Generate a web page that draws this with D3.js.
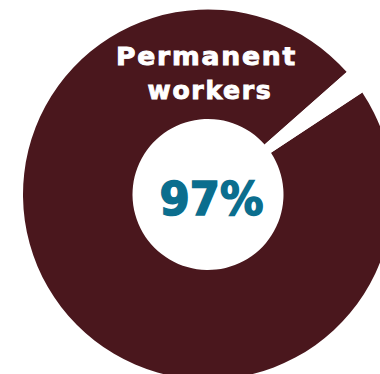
<!DOCTYPE html>
<html>
<head>
<meta charset="utf-8">
<script src="https://cdn.jsdelivr.net/npm/d3@7"></script>
<style>
  html, body { margin: 0; padding: 0; background: #fff; }
  svg { display: block; }
</style>
</head>
<body>
<div id="chart"></div>
<script>
const width = 380;
const height = 374;

// slices as drawn (label shows the rounded figure)
const categories = ["Permanent workers", "Other"];
const shares = [97.8, 2.2];
const colors = ["#4a171d", "#ffffff"];
const labelLines = ["Permanent", "workers"];
const centerLabel = "97%";

const cx = 208;
const cy = 194.5;
const outerR = 185;
const innerR = 75.5;

const svg = d3.select("#chart").append("svg")
    .attr("width", width)
    .attr("height", height);

const g = svg.append("g")
    .attr("transform", `translate(${cx}, ${cy})`);

const startDeg = 56.5;
const pie = d3.pie()
    .sort(null)
    .startAngle(startDeg * Math.PI / 180)
    .endAngle(startDeg * Math.PI / 180 + 2 * Math.PI);

const arc = d3.arc()
    .innerRadius(innerR)
    .outerRadius(outerR);

const slices = pie(shares).map((d, i) => ({...d, name: categories[i]}));

g.selectAll("path.slice")
    .data(slices)
    .enter()
    .append("path")
    .attr("class", "slice")
    .attr("d", arc)
    .attr("fill", (d, i) => colors[i]);

// stretch a text horizontally so its inked width matches the target
function fitWidth(sel, target, centerX) {
    sel.each(function() {
        const t = d3.select(this);
        const b = this.getBBox();
        const k = target / b.width;
        t.attr("transform", `translate(${centerX},0) scale(${k},1) translate(${-(b.x + b.width / 2)},0)`);
    });
}

// label on the ring
const lineWidths = [181, 125];
const lineCenters = [-1.5, 2];
g.selectAll("text.ring-label")
    .data(labelLines)
    .enter()
    .append("text")
    .attr("class", "ring-label")
    .attr("x", 0)
    .attr("y", (d, i) => -130 + i * 34.5)
    .attr("text-anchor", "middle")
    .style("font-family", "'DejaVu Sans', sans-serif")
    .style("font-weight", "bold")
    .style("font-size", "24px")
    .style("letter-spacing", "1.6px")
    .attr("fill", "#ffffff")
    .attr("stroke", "#ffffff")
    .attr("stroke-width", 0.9)
    .text(d => d)
    .each(function(d, i) { fitWidth(d3.select(this), lineWidths[i], lineCenters[i]); });

// centre figure
g.append("text")
    .attr("x", 0)
    .attr("y", 20.5)
    .attr("text-anchor", "middle")
    .style("font-family", "'DejaVu Sans', sans-serif")
    .style("font-weight", "bold")
    .style("font-size", "46px")
    .attr("fill", "#0b6e8e")
    .attr("stroke", "#0b6e8e")
    .attr("stroke-width", 1.6)
    .text(centerLabel)
    .call(fitWidth, 104, 3.5);
</script>
</body>
</html>
